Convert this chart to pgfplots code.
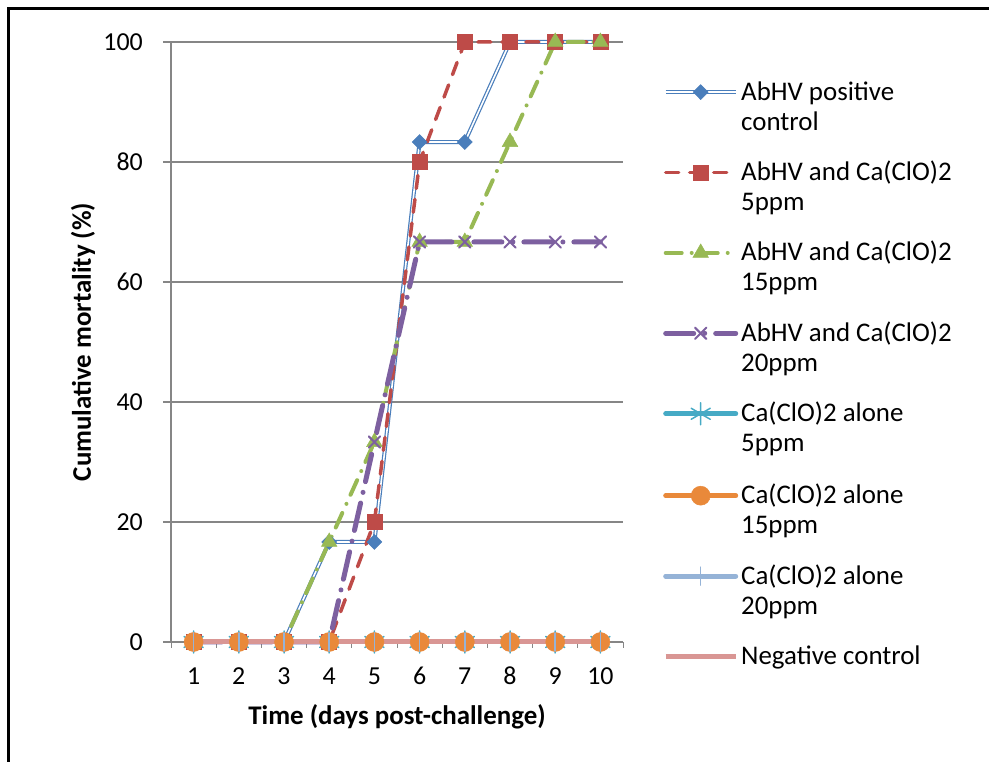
\documentclass[border=0pt]{standalone}
\usepackage{fontspec}
\setmainfont{Carlito}
\usepackage{pgfplots}
\pgfplotsset{compat=1.18}
\definecolor{cBlue}{HTML}{4A7EBB}
\definecolor{cRed}{HTML}{BE4B48}
\definecolor{cGreen}{HTML}{98B954}
\definecolor{cPurple}{HTML}{7D60A0}
\definecolor{cTeal}{HTML}{46AAC5}
\definecolor{cOrange}{HTML}{E9893A}
\definecolor{cLBlue}{HTML}{95B3D7}
\definecolor{cPink}{HTML}{D99694}
\definecolor{axgray}{HTML}{868686}
\newcommand{\fnt}{\fontsize{26}{30}\selectfont}
\newcommand{\lfnt}{\fontsize{27}{30}\selectfont}
\begin{document}
\begin{tikzpicture}[x=1bp,y=1bp]
\useasboundingbox (0,0) rectangle (989,762);
\fill[white] (0,0) rectangle (989,762);
\draw[line width=2.5bp] (8.5,-5) -- (8.5,753.5) -- (995,753.5);
\begin{axis}[
  at={(171bp,120bp)}, anchor=south west,
  scale only axis, width=452bp, height=600bp,
  xmin=0.5, xmax=10.5, ymin=0, ymax=100,
  xtick={1,...,10}, minor xtick={0.5,1.5,...,10.5},
  ytick={0,20,...,100},
  axis x line*=bottom, axis y line*=left,
  axis line style={draw=axgray, line width=1.3bp, -},
  ymajorgrids, major grid style={draw=axgray, line width=1.3bp},
  tick align=outside,
  major x tick style={draw=none},
  minor x tick style={draw=axgray, line width=1bp},
  major y tick style={draw=axgray, line width=1.3bp},
  major tick length=8bp, minor tick length=6bp,
  tick label style={font=\fnt},
  /pgf/number format/assume math mode=true,
  xticklabel style={anchor=center, inner sep=0pt, yshift=-26bp},
  yticklabel style={anchor=east, inner sep=0pt, xshift=-20bp},
  xlabel={\textbf{Time (days post-challenge)}},
  ylabel={\textbf{Cumulative mortality (\%)}},
  label style={font=\lfnt},
  xlabel style={at={(axis description cs:0.5,0)}, anchor=center, yshift=-75bp},
  ylabel style={at={(axis description cs:-0.1947,0.5)}, anchor=center},
  clip=false,
  legend image code/.code={\draw[mark repeat=2,mark phase=2,#1] plot coordinates {(0bp,0bp) (35bp,0bp) (70bp,0bp)};},
  legend style={at={(1,1)}, anchor=north west, xshift=40bp, yshift=-37bp,
    draw=none, fill=none, inner sep=0pt, row sep=58bp, column sep=3bp,
    font=\lfnt, cells={anchor=base west}, nodes={inner sep=0pt, yshift=-8bp}},
]
\addplot[draw=cBlue, double=white, double distance=1.6bp, line width=1.2bp,
  mark=diamond*, mark size=7.5bp, mark options={solid, fill=cBlue, draw=cBlue, xscale=1.33, line width=0.5bp}]
  coordinates {(1,0) (2,0) (3,0) (4,16.67) (5,16.67) (6,83.33) (7,83.33) (8,100) (9,100) (10,100)};
\addlegendentry{\parbox[t]{8cm}{\strut AbHV positive\\\strut control}}
\addplot[draw=cRed, line width=3.5bp, dash pattern=on 13bp off 11bp, line cap=round,
  mark=square*, mark size=7.5bp, mark options={solid, fill=cRed, draw=cRed, line width=0.5bp}]
  coordinates {(1,0) (2,0) (3,0) (4,0) (5,20) (6,80) (7,100) (8,100) (9,100) (10,100)};
\addlegendentry{\parbox[t]{8cm}{\strut AbHV and Ca(ClO)2\\\strut 5ppm}}
\addplot[draw=cGreen, line width=4bp, dash pattern=on 16bp off 10bp on 0bp off 10bp, line cap=round,
  mark=triangle*, mark size=9bp, mark options={solid, fill=cGreen, draw=cGreen, line width=0.5bp}]
  coordinates {(1,0) (2,0) (3,0) (4,16.67) (5,33.33) (6,66.67) (7,66.67) (8,83.33) (9,100) (10,100)};
\addlegendentry{\parbox[t]{8cm}{\strut AbHV and Ca(ClO)2\\\strut 15ppm}}
\addplot[draw=cPurple, line width=5bp, dash pattern=on 28bp off 11bp on 0bp off 11bp, line cap=round,
  mark=x, mark size=8bp, mark options={solid, draw=cPurple, line width=2bp}]
  coordinates {(1,0) (2,0) (3,0) (4,0) (5,33.33) (6,66.67) (7,66.67) (8,66.67) (9,66.67) (10,66.67)};
\addlegendentry{\parbox[t]{8cm}{\strut AbHV and Ca(ClO)2\\\strut 20ppm}}
\addplot[draw=cTeal, line width=5bp, line cap=round,
  mark=asterisk, mark size=11bp, mark options={solid, draw=cTeal, line width=1.5bp}]
  coordinates {(1,0) (2,0) (3,0) (4,0) (5,0) (6,0) (7,0) (8,0) (9,0) (10,0)};
\addlegendentry{\parbox[t]{8cm}{\strut Ca(ClO)2 alone\\\strut 5ppm}}
\addplot[draw=cOrange, line width=5bp, line cap=round,
  mark=*, mark size=9.5bp, mark options={solid, fill=cOrange, draw=cOrange, line width=0.5bp}]
  coordinates {(1,0) (2,0) (3,0) (4,0) (5,0) (6,0) (7,0) (8,0) (9,0) (10,0)};
\addlegendentry{\parbox[t]{8cm}{\strut Ca(ClO)2 alone\\\strut 15ppm}}
\addplot[draw=cLBlue, line width=5bp, line cap=round,
  mark=|, mark size=9bp, mark options={solid, draw=cLBlue, line width=1.5bp}]
  coordinates {(1,0) (2,0) (3,0) (4,0) (5,0) (6,0) (7,0) (8,0) (9,0) (10,0)};
\addlegendentry{\parbox[t]{8cm}{\strut Ca(ClO)2 alone\\\strut 20ppm}}
\addplot[draw=cPink, line width=5bp, no marks]
  coordinates {(1,0) (2,0) (3,0) (4,0) (5,0) (6,0) (7,0) (8,0) (9,0) (10,0)};
\addlegendentry{\strut Negative control}
\end{axis}
\end{tikzpicture}
\end{document}
